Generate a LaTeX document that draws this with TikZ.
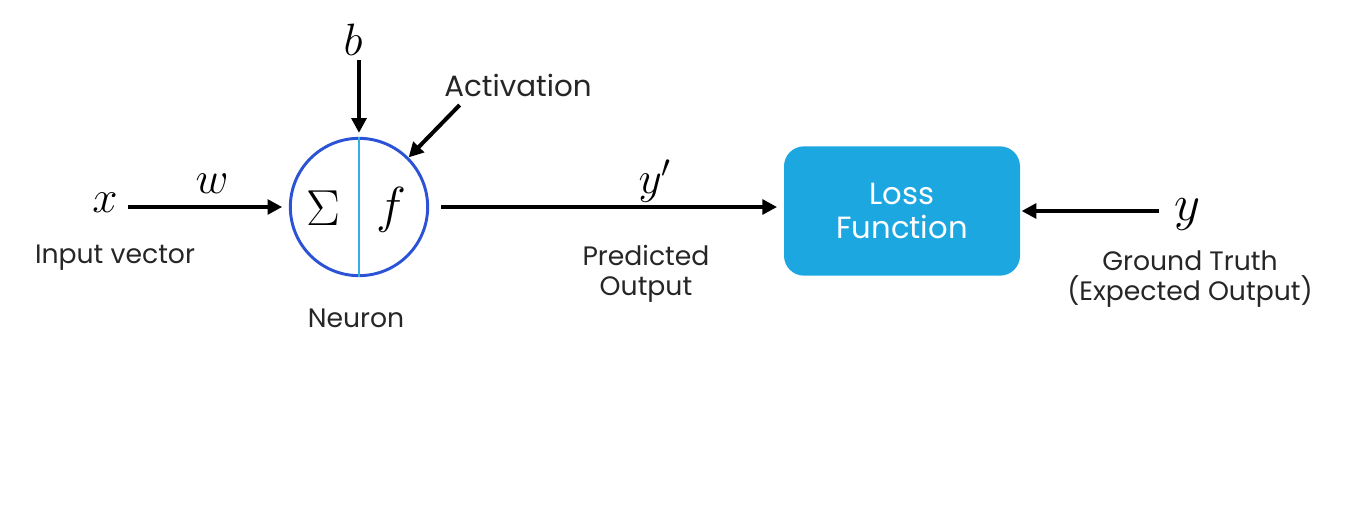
\RequirePackage{fix-cm}
\documentclass[tikz,border=0pt]{standalone}
\usepackage[no-math]{fontspec}
\setmainfont{Poppins}
\usetikzlibrary{arrows.meta, positioning, calc}
\definecolor{neuronblue}{HTML}{2C52D6}
\definecolor{splitcyan}{HTML}{36AEE2}
\definecolor{lossblue}{HTML}{1DA7E0}

\begin{document}
\begin{tikzpicture}[x=0.75pt, y=-0.75pt,
    lbl/.style={font=\fontsize{20}{22.5}\selectfont, align=center, text=black!85},
    sym/.style={font=\fontsize{34}{34}\selectfont},
    flow/.style={line width=3pt, -{Triangle[length=11pt, width=11pt]}}]
\useasboundingbox (0,0) rectangle (1347,525);
% neuron with sum and activation halves
\node[circle, draw=neuronblue, line width=2.2pt, minimum size=103pt] (neuron) at (359,207) {};
\draw[splitcyan, line width=1.3pt] (neuron.north) -- (neuron.south);
\node[sym, font=\fontsize{38}{38}\selectfont] (sigma) at (323,208) {$\Sigma$};
\node[sym, font=\fontsize{38}{38}\selectfont] (act-f) at (391,210) {$f$};
\node[lbl] (neuron-lbl) at (356,318) {Neuron};
% input side
\node[sym] (x) at (105,203) {$x$};
\node[sym] (w) at (212,184) {$w$};
\node[lbl] (x-lbl) at (115,258) {Input vector};
\draw[flow, shorten <=4pt, shorten >=5pt] (x.east |- neuron) -- (neuron.west);
\node[sym] (b) at (353,40) {$b$};
\draw[flow, shorten >=3pt] (b.south -| neuron) -- (neuron.north);
\node[lbl, font=\fontsize{22}{24}\selectfont] (act) at (518,85) {Activation};
\draw[flow] (act.south west) ++(20,4) -- (neuron.45);
% loss
\node[rectangle, rounded corners=15pt, fill=lossblue, minimum width=177pt, minimum height=97pt,
    text=white, align=center, font=\fontsize{23}{26}\selectfont] (loss) at (902,211) {Loss\\Function};
\draw[flow, shorten <=9pt, shorten >=5pt] (neuron.east) -- (neuron.east -| loss.west);
\node[sym] (yhat) at (655,181) {$y'$};
\node[lbl] (yhat-lbl) at (646,274) {Predicted\\Output};
\node[sym, font=\fontsize{38}{38}\selectfont] (y) at (1187,215) {$y$};
\draw[flow, shorten <=8pt, shorten >=1pt] (y.west |- loss) -- (loss.east);
\node[lbl] (y-lbl) at (1190,279) {Ground Truth\\(Expected Output)};
\end{tikzpicture}
\end{document}
